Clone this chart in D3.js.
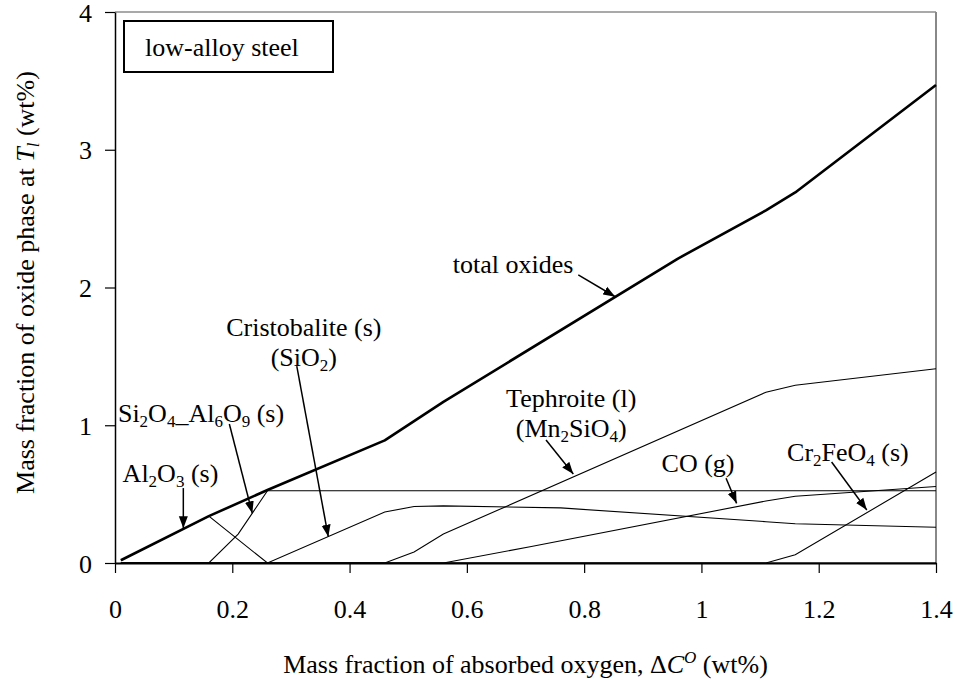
<!DOCTYPE html>
<html>
<head>
<meta charset="utf-8">
<script src="https://cdn.jsdelivr.net/npm/d3@7"></script>
<style>
  body { margin: 0; background: #fff; }
  svg { display: block; font-family: "Liberation Serif", "Times New Roman", serif; }
</style>
</head>
<body>
<svg id="chart" width="957" height="680"></svg>
<script>
// x values: absorbed oxygen (wt%), y values: oxide phase (wt%)
const xTicks = [0, 0.2, 0.4, 0.6, 0.8, 1, 1.2, 1.4];
const yTicks = [0, 1, 2, 3, 4];

const totalOxides = [[0.01, 0.02], [0.16, 0.34], [0.26, 0.53], [0.46, 0.89], [0.51, 1.03], [0.56, 1.17], [0.96, 2.21], [1.11, 2.56], [1.16, 2.69], [1.4, 3.47]];
const al2o3 = [[0.01, 0.02], [0.16, 0.34], [0.26, 0], [1.4, 0]];
const alSilicate = [[0.01, 0], [0.16, 0], [0.21, 0.21], [0.26, 0.525], [1.4, 0.525]];
const cristobalite = [[0.01, 0], [0.26, 0], [0.46, 0.37], [0.51, 0.41], [0.56, 0.415], [0.76, 0.40], [1.11, 0.30], [1.16, 0.285], [1.4, 0.26]];
const tephroite = [[0.01, 0], [0.46, 0], [0.51, 0.08], [0.56, 0.21], [1.11, 1.24], [1.16, 1.29], [1.4, 1.41]];
const coGas = [[0.01, 0], [0.56, 0], [0.71, 0.12], [1.11, 0.45], [1.16, 0.485], [1.4, 0.555]];
const cr2feo4 = [[0.01, 0], [1.11, 0], [1.16, 0.06], [1.4, 0.66]];

// {..} = subscript
const labelText = [["total oxides"], ["Cristobalite (s)", "(SiO{2})"], ["Si{2}O{4}_Al{6}O{9} (s)"], ["Al{2}O{3} (s)"],
  ["Tephroite (l)", "(Mn{2}SiO{4})"], ["CO (g)"], ["Cr{2}FeO{4} (s)"]];
const labelPos = [[0.576, 2.105], [0.322, 1.65], [0.005, 1.026], [0.013, 0.59], [0.778, 1.135], [0.932, 0.663], [1.146, 0.743]];
const labelAnchor = ["start", "middle", "start", "start", "middle", "start", "start"];
const arrowFrom = [[0.790, 2.091], [0.310, 1.43], [0.195, 1.009], [0.1165, 0.544], [0.735, 0.893], [1.042, 0.615], [1.222, 0.733]];
const arrowTo = [[0.853, 1.933], [0.3637, 0.191], [0.2341, 0.361], [0.1165, 0.252], [0.7815, 0.646], [1.060, 0.433], [1.282, 0.385]];

const width = 957, height = 680;
const margin = { top: 12, right: 21, bottom: 117, left: 115 };
const fs = 26;

const svg = d3.select("#chart");

const x = d3.scaleLinear().domain([0, 1.4]).range([margin.left, width - margin.right]);
const y = d3.scaleLinear().domain([0, 4]).range([height - margin.bottom, margin.top]);

svg.append("defs").append("marker")
    .attr("id", "head")
    .attr("markerUnits", "userSpaceOnUse")
    .attr("markerWidth", 14).attr("markerHeight", 10)
    .attr("viewBox", "0 -5 14 10")
    .attr("refX", 12).attr("refY", 0)
    .attr("orient", "auto")
  .append("path")
    .attr("d", "M0,-4.5L12,0L0,4.5Z")
    .attr("fill", "#000");

// frame (top + right in grey)
svg.append("line")
    .attr("x1", x(0)).attr("x2", x(1.4)).attr("y1", y(4)).attr("y2", y(4))
    .attr("stroke", "#555").attr("stroke-width", 1.2);
svg.append("line")
    .attr("x1", x(1.4)).attr("x2", x(1.4)).attr("y1", y(4)).attr("y2", y(0))
    .attr("stroke", "#888").attr("stroke-width", 2);

// axes
const xAxis = svg.append("g")
    .attr("transform", `translate(0,${y(0)})`)
    .call(d3.axisBottom(x).tickValues(xTicks).tickFormat(d => String(d)).tickSize(10).tickSizeOuter(0).tickPadding(27));
const yAxis = svg.append("g")
    .attr("transform", `translate(${x(0)},0)`)
    .call(d3.axisLeft(y).tickValues(yTicks).tickFormat(d => String(d)).tickSize(10).tickSizeOuter(0).tickPadding(13));

[xAxis, yAxis].forEach(g => {
    g.selectAll("text").attr("font-size", fs).attr("font-family", "Liberation Serif, serif").attr("fill", "#000");
    g.selectAll("line").attr("stroke", "#000").attr("stroke-width", 1.2);
});
xAxis.select(".domain").attr("stroke", "#000").attr("stroke-width", 2);
yAxis.select(".domain").attr("stroke", "#000").attr("stroke-width", 1.5);
yAxis.selectAll("text").attr("dy", "0.35em");

// series
const line = d3.line().x(d => x(d[0])).y(d => y(d[1]));
const thin = [al2o3, alSilicate, cristobalite, tephroite, coGas, cr2feo4];

svg.append("g")
    .selectAll("path")
    .data(thin)
    .enter().append("path")
    .attr("d", line)
    .attr("fill", "none")
    .attr("stroke", "#000")
    .attr("stroke-width", 1.1);

svg.append("path")
    .attr("d", line(totalOxides))
    .attr("fill", "none")
    .attr("stroke", "#000")
    .attr("stroke-width", 2.6)
    .attr("stroke-linejoin", "round");

// text with {sub} markup
function richText(sel, str) {
    let shift = 0;
    str.split(/(\{[^}]*\})/).filter(s => s.length).forEach(s => {
        if (s[0] === "{") {
            sel.append("tspan").attr("font-size", 17).attr("dy", 5).text(s.slice(1, -1));
            shift = -5;
        } else {
            sel.append("tspan").attr("dy", shift).text(s);
            shift = 0;
        }
    });
}

// annotations
labelText.forEach((lines, i) => {
    lines.forEach((str, j) => {
        const t = svg.append("text")
            .attr("x", x(labelPos[i][0]))
            .attr("y", y(labelPos[i][1]) + j * 30)
            .attr("font-size", fs)
            .attr("text-anchor", labelAnchor[i]);
        richText(t, str);
    });
    svg.append("line")
        .attr("x1", x(arrowFrom[i][0])).attr("y1", y(arrowFrom[i][1]))
        .attr("x2", x(arrowTo[i][0])).attr("y2", y(arrowTo[i][1]))
        .attr("stroke", "#000").attr("stroke-width", 1.5)
        .attr("marker-end", "url(#head)");
});

// legend box
svg.append("rect")
    .attr("x", margin.left + 9).attr("y", margin.top + 9)
    .attr("width", 209).attr("height", 51)
    .attr("fill", "#fff").attr("stroke", "#000").attr("stroke-width", 2);
svg.append("text")
    .attr("x", margin.left + 30).attr("y", margin.top + 44)
    .attr("font-size", fs)
    .text("low-alloy steel");

// axis titles
const xt = svg.append("text")
    .attr("x", (x(0) + x(1.4)) / 2)
    .attr("y", 673)
    .attr("font-size", fs)
    .attr("text-anchor", "middle");
xt.append("tspan").text("Mass fraction of absorbed oxygen, Δ");
xt.append("tspan").attr("font-style", "italic").text("C");
xt.append("tspan").attr("font-style", "italic").attr("font-size", 17).attr("dy", -10).text("O");
xt.append("tspan").attr("dy", 10).text(" (wt%)");

const yt = svg.append("text")
    .attr("transform", `translate(34,${(y(0) + y(4)) / 2 - 5}) rotate(-90)`)
    .attr("font-size", fs)
    .attr("text-anchor", "middle");
yt.append("tspan").text("Mass fraction of oxide phase at ");
yt.append("tspan").attr("font-style", "italic").text("T");
yt.append("tspan").attr("font-style", "italic").attr("font-size", 17).attr("dy", 5).text("l");
yt.append("tspan").attr("dy", -5).text(" (wt%)");
</script>
</body>
</html>
